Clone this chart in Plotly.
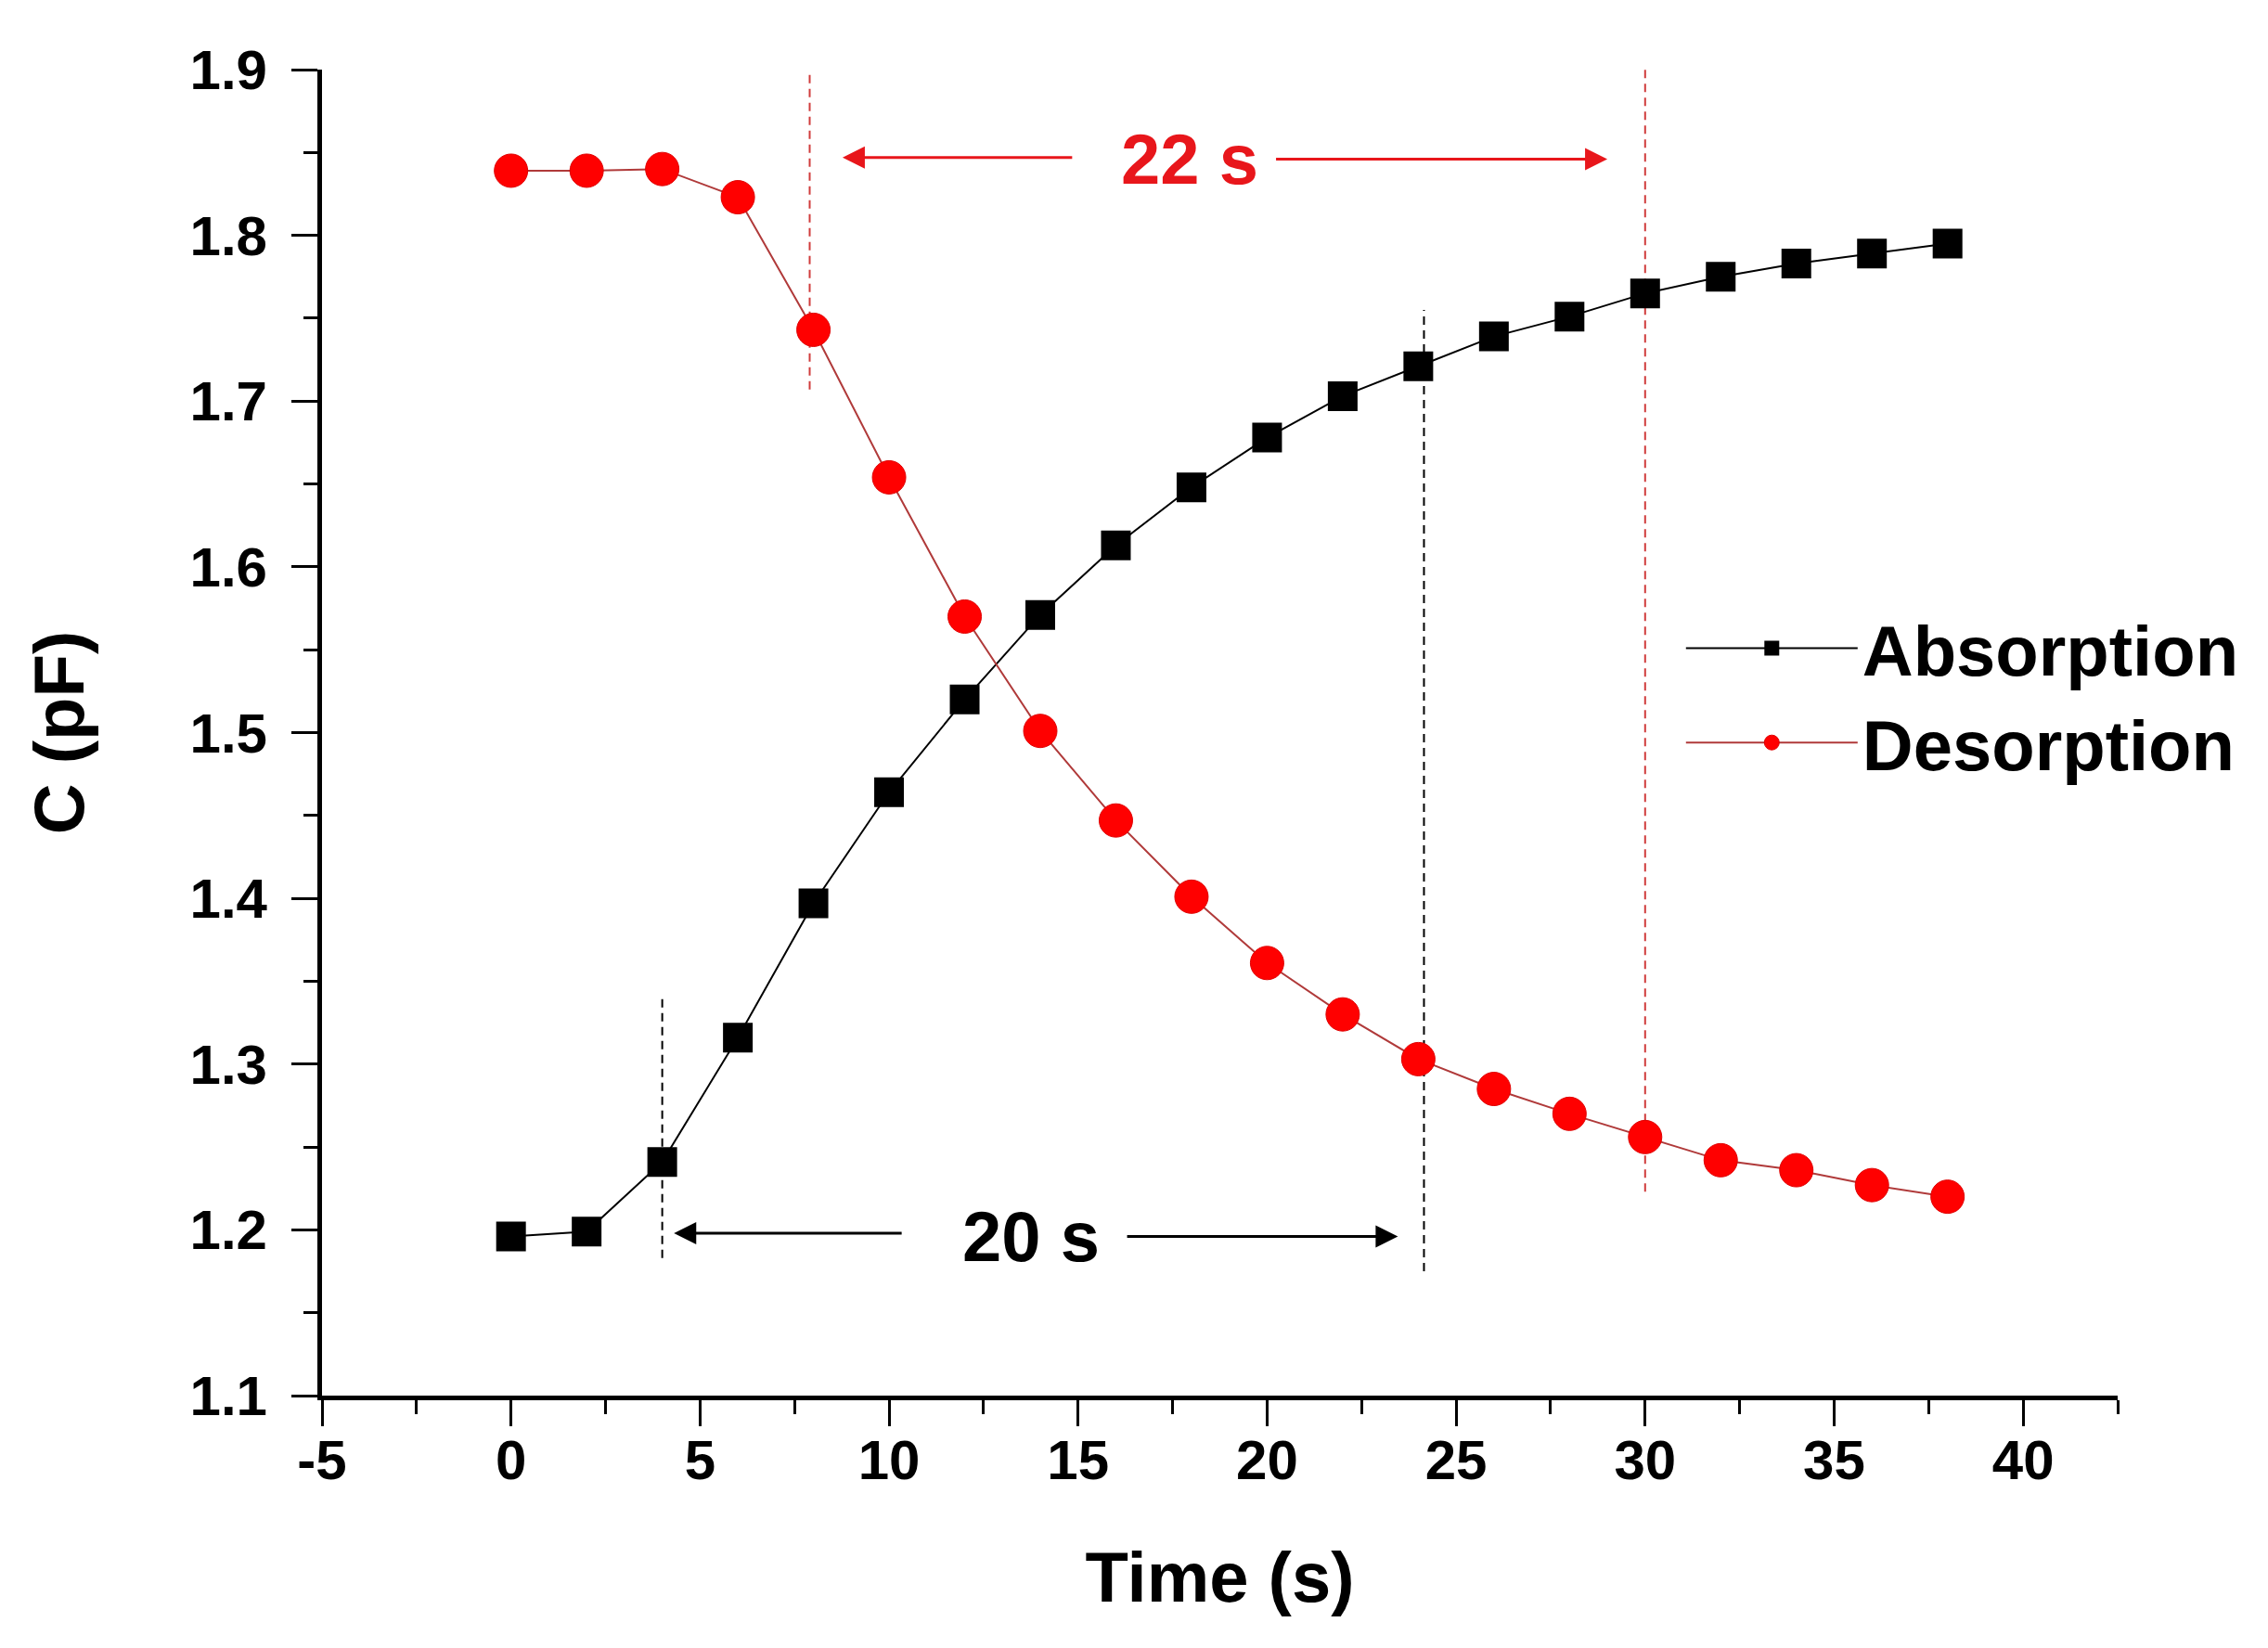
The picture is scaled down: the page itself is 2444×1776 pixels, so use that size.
import plotly.graph_objects as go

# time points (s)
time_s = [0, 2, 4, 6, 8, 10, 12, 14, 16, 18, 20, 22, 24, 26, 28, 30, 32, 34, 36, 38]

# capacitance (pF)
absorption = [1.196, 1.199, 1.241, 1.316, 1.397, 1.464, 1.520, 1.571, 1.613, 1.648,
              1.678, 1.703, 1.721, 1.739, 1.751, 1.765, 1.775, 1.783, 1.789, 1.795]
desorption = [1.839, 1.839, 1.840, 1.823, 1.743, 1.654, 1.570, 1.501, 1.447, 1.401,
              1.361, 1.330, 1.303, 1.285, 1.270, 1.256, 1.242, 1.236, 1.227, 1.220]

# axis ticks
x_ticks = [-5, 0, 5, 10, 15, 20, 25, 30, 35, 40]
x_tick_text = ["-5", "0", "5", "10", "15", "20", "25", "30", "35", "40"]

# vertical dashed guides (x, y from, y to)
guide_x = [7.9, 30.0, 4.0, 24.15]
guide_y0 = [1.707, 1.223, 1.183, 1.175]
guide_y1 = [1.909, 1.900, 1.342, 1.755]
guide_color = ["#d03c3c", "#d03c3c", "#000000", "#000000"]

# double arrows for the response times
arrow_tail_x = [14.88, 20.2, 10.37, 16.26]
arrow_head_x = [8.77, 29.0, 4.31, 23.46]
arrow_y = [1.847, 1.846, 1.198, 1.196]
arrow_color = ["#e8161b", "#e8161b", "#000000", "#000000"]

# labels between the arrows
label_text = ["22 s", "20 s"]
label_x = [17.96, 13.745]
label_y = [1.846, 1.196]
label_color = ["#e8161b", "#000000"]

FONT = "Liberation Sans, Arial, sans-serif"

fig = go.Figure()

fig.add_trace(
    go.Scatter(
        x=time_s,
        y=absorption,
        mode="lines+markers",
        name="Absorption",
        line=dict(color="#000000", width=2),
        marker=dict(symbol="square", size=32, color="#000000"),
    )
)
fig.add_trace(
    go.Scatter(
        x=time_s,
        y=desorption,
        mode="lines+markers",
        name="Desorption",
        line=dict(color="#b03a3a", width=2),
        marker=dict(symbol="circle", size=36, color="#ff0000",
                    line=dict(color="#e00000", width=1)),
    )
)

# 虚线
for gx, g0, g1, gc in zip(guide_x, guide_y0, guide_y1, guide_color):
    fig.add_shape(
        type="line", xref="x", yref="y",
        x0=gx, x1=gx, y0=g0, y1=g1,
        line=dict(color=gc, width=2, dash="9px,6px"),
        layer="below",
    )

# 箭头
for tx, hx, ay, ac in zip(arrow_tail_x, arrow_head_x, arrow_y, arrow_color):
    fig.add_annotation(
        x=hx, y=ay, ax=tx, ay=ay,
        xref="x", yref="y", axref="x", ayref="y",
        text="", showarrow=True,
        arrowhead=2, arrowsize=1.6, arrowwidth=3, arrowcolor=ac,
        standoff=0,
    )

for t, lx, ly, lc in zip(label_text, label_x, label_y, label_color):
    fig.add_annotation(
        x=lx, y=ly, xref="x", yref="y",
        text=t, showarrow=False,
        font=dict(family=FONT, size=76, color=lc, weight="bold"),
    )

fig.update_layout(
    width=2444,
    height=1776,
    margin=dict(l=339, r=170, t=67, b=280),
    plot_bgcolor="white",
    paper_bgcolor="white",
    font=dict(family=FONT, color="black"),
    showlegend=True,
    legend=dict(
        x=0.757, y=0.528, xanchor="left", yanchor="middle",
        bgcolor="rgba(0,0,0,0)",
        font=dict(family=FONT, size=76, color="black", weight="bold"),
        itemwidth=185,
        tracegroupgap=0,
    ),
)

fig.update_xaxes(
    range=[-5, 42.5],
    tickvals=x_ticks, ticktext=x_tick_text,
    showline=True, linewidth=5, linecolor="black",
    ticks="outside", ticklen=28, tickwidth=3, tickcolor="black",
    minor=dict(ticks="outside", ticklen=15, tickwidth=3, tickcolor="black", dtick=2.5, tick0=0),
    showgrid=False, zeroline=False, mirror=False,
    tickfont=dict(family=FONT, size=60, weight="bold"),
    ticklabelstandoff=-15,
    title=dict(text="Time (s)", font=dict(family=FONT, size=76, weight="bold"), standoff=68),
)

fig.update_yaxes(
    range=[1.1, 1.9],
    tick0=1.1, dtick=0.1, tickformat=".1f",
    showline=True, linewidth=5, linecolor="black",
    ticks="outside", ticklen=28, tickwidth=3, tickcolor="black",
    minor=dict(ticks="outside", ticklen=15, tickwidth=3, tickcolor="black", dtick=0.05),
    showgrid=False, zeroline=False, mirror=False,
    tickfont=dict(family=FONT, size=60, weight="bold"),
    ticklabelstandoff=14,
    title=dict(text="C (pF)", font=dict(family=FONT, size=76, weight="bold"), standoff=90),
)

fig.write_html("out.html")
